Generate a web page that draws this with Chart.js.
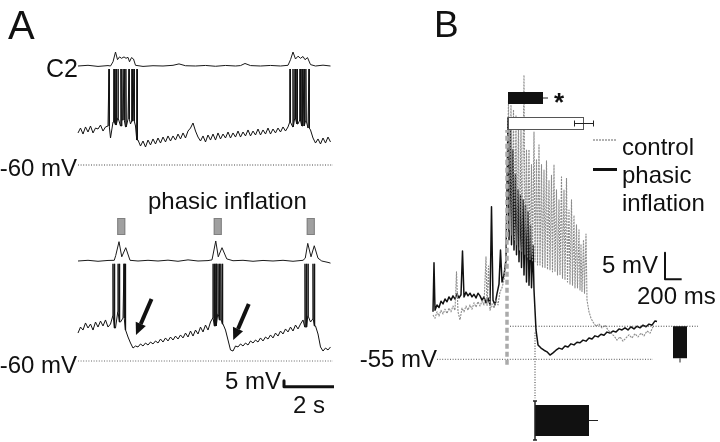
<!DOCTYPE html>
<html>
<head>
<meta charset="utf-8">
<script src="https://cdn.jsdelivr.net/npm/chart.js@4.4.1/dist/chart.umd.min.js"></script>
<style>
  html, body { margin: 0; padding: 0; background: #fff; }
  #wrap { width: 720px; height: 442px; }
</style>
</head>
<body>
<div id="wrap"><canvas id="fig" width="720" height="442"></canvas></div>
<script>
// ---------------- Panel A data (time in s, Vm in mV, C2 in a.u.) ----------------
const dtA = 0.1; // Vm sampled every 100 ms from t = 0

const topVm = [-33.3,-29.2,-34.2,-28.3,-32.5,-27.5,-33.3,-29.2,-30,-26.7,-31.7,-28.3,
  -27.5,-37.5,-24.2,-26.7,-20.8,-27.5,-22.5,-28.3,-21.7,-25.8,-23.3,-27.5,-39.2,
  -44.2,-40,-45,-39.2,-43.3,-38.3,-42.5,-37.5,-41.7,-36.7,-40.8,-35.8,-40,-35.8,-39.2,
  -34.2,-38.3,-33.3,-37.5,-31.7,-29.2,-25,-31.7,-36.7,-40,
  -35.8,-40.8,-35,-39.2,-34.2,-39.2,-33.3,-38.3,-34.2,-37.5,
  -32.5,-37.5,-33.3,-36.7,-31.7,-36.7,-32.5,-35.8,-30.8,-35.8,
  -31.7,-35,-30,-35,-30.8,-34.2,-29.2,-34.2,-30,-33.3,
  -29.2,-32.5,-28.3,-31.7,-28.3,-24.2,-28.3,-20.8,-25.8,-22.5,
  -27.5,-23.3,-29.2,-30.8,-37.5,-41.7,-38.3,-42.5,-37.5,-41.7,-36.7,-40.8];
const topSpikes = [1.24,1.44,1.52,1.60,1.72,1.76,1.84,1.92,2.04,2.16,2.24,2.36,
  8.48,8.60,8.68,8.76,8.88,8.96,9.04,9.12,9.24];
const topSpikePeak = 20;

const bottomVm = [-36.7,-31.7,-34.2,-28.3,-32.5,-29.2,-34.2,-27.5,-31.7,-26.7,
  -30.8,-25.8,-31.7,-29.2,-22.5,-32.5,-19.2,-27.5,-24.2,-34.2,
  -40,-45,-49.2,-47.5,-48.3,-45.8,-47.5,-45,-46.7,-44.2,
  -45.8,-43.3,-45,-41.7,-44.2,-40.8,-43.3,-40,-42.5,-39.2,
  -41.7,-38.3,-40.8,-36.7,-40,-35,-39.2,-34.2,-37.5,-31.7,
  -35.8,-30,-34.2,-27.5,-24.2,-30.8,-20.8,-25.8,-29.2,-34.2,
  -42.5,-50.8,-51.7,-47.5,-48.3,-45.8,-47.5,-45,-46.7,-43.3,
  -45,-42.5,-44.2,-40.8,-43.3,-40,-41.7,-38.3,-40.8,-36.7,
  -39.2,-35,-37.5,-33.3,-35.8,-31.7,-35,-30,-33.3,-29.2,
  -25.8,-31.7,-22.5,-27.5,-25,-30.8,-37.5,-48.3,-51.7,-49.2,-50.8,-48.3];
const bottomSpikes = [1.40,1.46,1.60,1.66,1.84,1.90,
  5.40,5.46,5.52,5.60,5.66,5.72,5.78,
  9.08,9.14,9.20,9.40,9.46];
const bottomSpikePeak = 21;

const topC2 = [[0,0],[0.4,0.05],[0.8,-0.03],[1.2,0.03],[1.3,0],[1.4,0.3],[1.5,1.0],[1.58,0.45],
  [1.66,0.65],[1.74,0.55],[1.84,0.65],[1.92,0.55],[2.0,0.62],[2.06,0.3],[2.14,0.6],[2.22,0.5],
  [2.3,0.05],[2.6,-0.03],[3.0,0.02],[3.4,0],[3.8,0.05],[4.04,0.15],[4.3,0.02],[4.7,0],[5.1,0.04],
  [5.5,-0.02],[5.9,0.04],[6.3,0],[6.5,0.03],[6.68,0.18],[6.9,0.03],[7.3,0],[7.7,0.04],[8.1,0],
  [8.4,0.05],[8.5,0.45],[8.6,1.0],[8.7,0.5],[8.8,0.7],[8.9,0.55],[9.0,0.68],[9.08,0.45],
  [9.18,0.6],[9.3,0.1],[9.5,0],[9.8,0.06],[10.1,0]];
const bottomC2 = [[0,0],[0.4,0.05],[0.8,-0.02],[1.2,0.04],[1.45,0.05],[1.51,0.4],[1.64,1.38],
  [1.75,0.3],[1.91,0.95],[2.08,0.05],[2.4,0],[2.8,0.05],[3.2,0],[3.6,0.06],[4.0,-0.02],[4.4,0.08],
  [4.8,0],[5.2,0.03],[5.36,0.08],[5.51,1.43],[5.61,0.3],[5.76,0.95],[5.95,0.15],[6.2,0.02],
  [6.6,0.05],[7.0,-0.02],[7.4,0.04],[7.8,0],[8.2,0.05],[8.6,-0.02],[9.0,0.05],[9.09,0.2],
  [9.19,1.26],[9.32,0.3],[9.45,1.09],[9.6,0.2],[9.75,0],[10.0,-0.1],[10.1,-0.15]];

const inflationsA = [[1.57, 1.89], [5.43, 5.75], [9.15, 9.47]]; // inflation periods (s)
const arrowTips = [[2.32, -38.3], [6.21, -42.5]];                // post-burst troughs
const restLineA = -60;
const traceEndA = 10.2;

// ---------------- Panel B data (time in ms, Vm in mV) ----------------
const phasicB = [[12,-46.1],[24,-36.9],[36,-45.8],[60,-44.8],[84,-45.3],[108,-44.1],[132,-44.6],
  [156,-43.7],[180,-44.2],[204,-43.3],[228,-43.9],[252,-43.1],[276,-43.7],[300,-42.7],[324,-43.5],
  [348,-42.9],[366,-34.7],[384,-43.3],[408,-42.4],[432,-43.1],[456,-42.6],[480,-43.3],[504,-42.8],
  [528,-43.5],[552,-42.6],[576,-43.1],[600,-43.9],[624,-43.3],[648,-44.4],[672,-43.5],[696,-44.8],
  [714,-26.4],[732,-43.9],[756,-44.8],[780,-42.7],[804,-40.9],[822,-34.5],[840,-40.5],[864,-39.2],
  [888,-36.4],[912,-9.7],[924,-32.6],[942,-11.0],[954,-33.5],[972,-15.7],[984,-34.5],[1002,-20.4],
  [1014,-35.4],[1032,-23.2],[1044,-36.7],[1062,-24.2],[1074,-37.8],[1092,-25.1],[1104,-39.2],
  [1122,-26.1],[1134,-40.5],[1152,-27.4],[1164,-41.1],[1182,-29.8],[1194,-41.6],[1212,-33.6],
  [1224,-42.0],[1248,-49.5],[1272,-52.3],[1308,-52.9],[1344,-53.3],[1380,-53.6],[1416,-54.2],
  [1452,-53.8],[1488,-53.3],[1524,-52.9],[1560,-53.1],[1596,-52.5],[1632,-52.7],[1668,-52.1],
  [1704,-52.3],[1740,-51.8],[1776,-51.9],[1812,-51.4],[1848,-51.6],[1884,-51.0],[1920,-51.2],
  [1956,-50.6],[1992,-50.8],[2028,-50.3],[2064,-50.5],[2100,-49.9],[2136,-50.1],[2172,-49.7],
  [2208,-49.9],[2244,-49.3],[2280,-49.5],[2316,-49.1],[2352,-49.5],[2388,-48.9],[2424,-49.3],
  [2460,-48.8],[2496,-49.1],[2532,-48.6],[2568,-48.9],[2604,-48.4],[2640,-48.6],[2676,-47.8],
  [2700,-47.9]];
const controlB = [[12,-46.7],[36,-47.3],[60,-46.1],[84,-46.9],[108,-45.8],[132,-46.5],[156,-45.6],
  [180,-46.4],[204,-45.4],[228,-46.1],[252,-45.0],[276,-45.8],[294,-38.6],[312,-46.1],[336,-47.6],
  [360,-45.4],[384,-46.1],[408,-45.0],[432,-45.8],[456,-44.8],[480,-45.6],[504,-44.4],[528,-45.2],
  [552,-44.2],[576,-45.0],[600,-44.1],[624,-44.8],[648,-35.8],[660,-45.0],[678,-37.5],[696,-45.8],
  [720,-44.6],[744,-45.4],[768,-43.9],[792,-44.8],[816,-42.4],[840,-41.6],[864,-40.1],[888,-35.4],
  [918,-6.4],[930,-30.7],[948,-7.3],[960,-31.7],[978,-8.2],[990,-32.6],[1008,-9.2],[1020,-33.5],
  [1038,-10.1],[1050,-34.5],[1068,-12.0],[1080,-34.9],[1104,-1.7],[1116,-35.4],[1134,-15.7],
  [1146,-36.0],[1164,-15.7],[1176,-36.4],[1194,-18.5],[1206,-36.7],[1224,-12.4],[1236,-36.7],
  [1254,-17.6],[1266,-37.3],[1284,-14.8],[1296,-37.3],[1314,-18.5],[1326,-37.8],[1344,-19.5],
  [1356,-37.8],[1374,-17.8],[1386,-38.2],[1404,-21.4],[1416,-38.2],[1434,-20.5],[1446,-38.6],
  [1464,-18.5],[1476,-38.6],[1494,-23.2],[1506,-39.2],[1524,-25.1],[1536,-39.2],[1554,-20.8],
  [1566,-39.8],[1584,-23.2],[1596,-40.1],[1614,-21.0],[1626,-40.5],[1644,-27.0],[1656,-40.9],
  [1674,-25.1],[1686,-41.1],[1704,-28.0],[1716,-41.6],[1734,-29.8],[1746,-41.6],[1764,-30.7],
  [1776,-42.0],[1788,-33.4],[1800,-42.3],[1818,-32.6],[1830,-42.6],[1848,-31.5],[1860,-43.9],
  [1884,-46.1],[1908,-47.3],[1932,-48.0],[1968,-48.8],[2004,-48.4],[2040,-49.1],[2076,-48.6],
  [2112,-49.5],[2148,-50.1],[2184,-50.6],[2220,-51.4],[2256,-50.8],[2292,-51.6],[2328,-51.0],
  [2364,-50.4],[2400,-51.0],[2436,-50.2],[2472,-50.8],[2508,-50.1],[2544,-50.6],[2580,-49.7],
  [2616,-50.1],[2652,-48.9]];

const inflationOnsetB = 900;   // ms
const phasicBurstEndB = 1236;  // ms
const restLineB = -55;
const postBurstLevelB = -48.8;

// duration bars (ms): phasic burst, control burst, hyperpolarization
const durStart = [912, 912, 1236];
const durEnd = [1332, 1824, 1884];
const durErr = [60, 114, 108];
// hyperpolarization amplitude bar (mV)
const hypAmp = [-48.8, -54.8];
const hypAmpErr = 0.8;

// ---------------- helpers ----------------
const W = 720, H = 442;
function xRange(anchorPx, anchorVal, pxPerUnit) {
  return { min: anchorVal - anchorPx / pxPerUnit, max: anchorVal + (W - anchorPx) / pxPerUnit };
}
function yRange(anchorPx, anchorVal, pxPerUnit) {
  return { min: anchorVal - (H - anchorPx) / pxPerUnit, max: anchorVal + anchorPx / pxPerUnit };
}
function withSpikes(vm, spikes, peak) {
  const pts = vm.map((v, i) => ({ x: +(i * dtA).toFixed(2), y: v }));
  spikes.forEach(t => {
    const b = vm[Math.min(vm.length - 1, Math.round(t / dtA))];
    pts.push({ x: t - 0.01, y: b }, { x: t, y: peak }, { x: t + 0.01, y: b });
  });
  return pts.sort((a, b) => a.x - b.x);
}
const xy = arr => arr.map(p => ({ x: p[0], y: p[1] }));

function line(data, x, y, color, width, dash) {
  return { data, xAxisID: x, yAxisID: y, borderColor: color, borderWidth: width,
           borderDash: dash || [], pointRadius: 0, tension: 0, fill: false,
           borderJoinStyle: 'round' };
}

const dotted = [1, 1.6];
const datasets = [
  line(xy(topC2), 'xA', 'yC1', '#1a1a1a', 1),
  line(withSpikes(topVm, topSpikes, topSpikePeak), 'xA', 'yA1', '#111', 1),
  line([{ x: 0, y: restLineA }, { x: traceEndA, y: restLineA }], 'xA', 'yA1', '#444', 1, dotted),
  line(xy(bottomC2), 'xA', 'yC2', '#1a1a1a', 1),
  line(withSpikes(bottomVm, bottomSpikes, bottomSpikePeak), 'xA', 'yA2', '#111', 1),
  line([{ x: 0, y: restLineA }, { x: traceEndA, y: restLineA }], 'xA', 'yA2', '#666', 1, dotted),
  // scale bar A: 5 mV, 2 s
  line([{ x: 8.24, y: -76.4 }, { x: 8.24, y: -81.4 }, { x: 10.24, y: -81.4 }], 'xA', 'yA2', '#111', 3),
  // panel B
  line([{ x: 60, y: restLineB }, { x: 2652, y: restLineB }], 'xB', 'yB', '#555', 1, dotted),
  line([{ x: 936, y: postBurstLevelB }, { x: 3192, y: postBurstLevelB }], 'xB', 'yB', '#444', 1, dotted),
  line([{ x: inflationOnsetB, y: -56.0 }, { x: inflationOnsetB, y: -12.0 }], 'xB', 'yB', '#aaa', 3.5, [5, 3]),
  line(xy(controlB), 'xB', 'yB', '#8c8c8c', 1.1, [2, 1]),
  line(xy(phasicB), 'xB', 'yB', '#111', 1.5),
  line([{ x: phasicBurstEndB, y: -50.0 }, { x: phasicBurstEndB, y: -62.3 }], 'xB', 'yB', '#333', 1, dotted),
  // scale bar B: 5 mV, 200 ms
  line([{ x: 2796, y: -35 }, { x: 2796, y: -40 }, { x: 2996, y: -40 }], 'xB', 'yB', '#111', 2)
];

const FONT = '"Liberation Sans", Arial, Helvetica, sans-serif';
function text(ctx, s, x, y, size, align, weight) {
  ctx.font = (weight || '') + ' ' + size + 'px ' + FONT;
  ctx.textAlign = align || 'left';
  ctx.textBaseline = 'alphabetic';
  ctx.fillStyle = '#111';
  ctx.fillText(s, x, y);
}

const overlay = {
  id: 'overlay',
  afterDatasetsDraw(chart) {
    const ctx = chart.ctx;
    const s = chart.scales;
    ctx.save();

    // inflation markers above the lower C2 trace
    const c2base = s.yC2.getPixelForValue(0);
    ctx.fillStyle = '#a0a0a0';
    ctx.strokeStyle = '#808080';
    ctx.lineWidth = 1;
    inflationsA.forEach(([a, b]) => {
      const x0 = s.xA.getPixelForValue(a), x1 = s.xA.getPixelForValue(b);
      ctx.fillRect(x0, c2base - 43, x1 - x0, 17);
      ctx.strokeRect(x0 + 0.5, c2base - 42.5, x1 - x0 - 1, 16);
    });

    // arrows pointing to the post-burst troughs
    ctx.fillStyle = '#111';
    ctx.strokeStyle = '#111';
    arrowTips.forEach(([t, v]) => {
      const tx = s.xA.getPixelForValue(t), ty = s.yA2.getPixelForValue(v);
      const fx = tx + 15.5, fy = ty - 36;
      const len = Math.hypot(tx - fx, ty - fy);
      const ux = (tx - fx) / len, uy = (ty - fy) / len;
      const bx = tx - ux * 12, by = ty - uy * 12;
      ctx.lineWidth = 4;
      ctx.beginPath(); ctx.moveTo(fx, fy); ctx.lineTo(bx, by); ctx.stroke();
      ctx.beginPath();
      ctx.moveTo(tx, ty);
      ctx.lineTo(bx - uy * 5.5, by + ux * 5.5);
      ctx.lineTo(bx + uy * 5.5, by - ux * 5.5);
      ctx.closePath(); ctx.fill();
    });

    // duration bars in panel B
    const rows = [[92, 12], [117, 13], [405, 31]];
    const fills = ['#111', '#fff', '#111'];
    durStart.forEach((st, i) => {
      const x0 = s.xB.getPixelForValue(st), x1 = s.xB.getPixelForValue(durEnd[i]);
      const e = s.xB.getPixelForValue(durEnd[i] + durErr[i]) - x1;
      const [top, h] = rows[i];
      const cy = top + h / 2;
      ctx.fillStyle = fills[i];
      ctx.fillRect(x0, top, x1 - x0, h);
      ctx.strokeStyle = i === 1 ? '#555' : '#111';
      ctx.lineWidth = 1;
      ctx.strokeRect(x0 + 0.5, top + 0.5, x1 - x0 - 1, h - 1);
      ctx.strokeStyle = '#222';
      ctx.beginPath();
      if (i === 1) {
        ctx.moveTo(x1 - e, cy); ctx.lineTo(x1 + e, cy);
        ctx.moveTo(x1 - e, cy - 3); ctx.lineTo(x1 - e, cy + 3);
        ctx.moveTo(x1 + e, cy - 3); ctx.lineTo(x1 + e, cy + 3);
      } else {
        ctx.moveTo(x1, cy); ctx.lineTo(x1 + e, cy);
      }
      ctx.stroke();
      if (i === 2) {
        ctx.lineWidth = 1.5;
        ctx.beginPath();
        ctx.moveTo(x0, top - 4); ctx.lineTo(x0, top + h + 4);
        ctx.moveTo(x0 - 2, top - 4); ctx.lineTo(x0 + 2, top - 4);
        ctx.moveTo(x0 - 2, top + h + 4); ctx.lineTo(x0 + 2, top + h + 4);
        ctx.stroke();
      }
    });

    // hyperpolarization amplitude bar
    const ay0 = s.yB.getPixelForValue(hypAmp[0]), ay1 = s.yB.getPixelForValue(hypAmp[1]);
    const aye = s.yB.getPixelForValue(hypAmp[1] - hypAmpErr);
    ctx.fillStyle = '#111';
    ctx.fillRect(673, ay0, 14, ay1 - ay0);
    ctx.strokeStyle = '#222'; ctx.lineWidth = 1;
    ctx.beginPath(); ctx.moveTo(680, ay1); ctx.lineTo(680, aye); ctx.stroke();

    // legend swatches
    ctx.strokeStyle = '#999'; ctx.lineWidth = 1.5; ctx.setLineDash([2, 1]);
    ctx.beginPath(); ctx.moveTo(593, 140); ctx.lineTo(616, 140); ctx.stroke();
    ctx.setLineDash([]);
    ctx.strokeStyle = '#111'; ctx.lineWidth = 3;
    ctx.beginPath(); ctx.moveTo(593, 169.5); ctx.lineTo(617, 169.5); ctx.stroke();

    // labels
    text(ctx, 'A', 8, 39, 40);
    text(ctx, 'B', 434, 37, 37);
    text(ctx, 'C2', 78, s.yC1.getPixelForValue(0) + 11, 25, 'right');
    text(ctx, '-60 mV', 77, s.yA1.getPixelForValue(restLineA) + 11, 24, 'right');
    text(ctx, '-60 mV', 77, s.yA2.getPixelForValue(restLineA) + 12, 24, 'right');
    text(ctx, 'phasic inflation', 148, 209, 24);
    text(ctx, '5 mV', 281, 389, 24, 'right');
    text(ctx, '2 s', 293, 413, 24);
    text(ctx, '-55 mV', 437, s.yB.getPixelForValue(restLineB) + 8, 24, 'right');
    text(ctx, '5 mV', 602, 273, 24);
    text(ctx, '200 ms', 637, 304, 24);
    text(ctx, '*', 554, 111, 26, 'left', 'bold');
    text(ctx, 'control', 622, 155, 24);
    text(ctx, 'phasic', 622, 183, 24);
    text(ctx, 'inflation', 622, 211, 24);

    ctx.restore();
  }
};

const ax = (axis, r) => Object.assign({ type: 'linear', axis, display: false }, r);

new Chart(document.getElementById('fig').getContext('2d'), {
  type: 'line',
  data: { datasets },
  options: {
    responsive: false,
    animation: false,
    layout: { padding: 0 },
    plugins: { legend: { display: false }, tooltip: { enabled: false } },
    scales: {
      xA: ax('x', xRange(78, 0, 25)),          // 25 px per s
      yA1: ax('y', yRange(165, -60, 1.2)),     // 1.2 px per mV
      yA2: ax('y', yRange(361, -60, 1.2)),
      yC1: ax('y', yRange(66, 0, 14)),
      yC2: ax('y', yRange(261, 0, 14)),
      xB: ax('x', xRange(432, 0, 1 / 12)),     // 12 ms per px
      yB: ax('y', yRange(359.3, -55, 5.333))   // 5.33 px per mV
    }
  },
  plugins: [overlay]
});
</script>
</body>
</html>
